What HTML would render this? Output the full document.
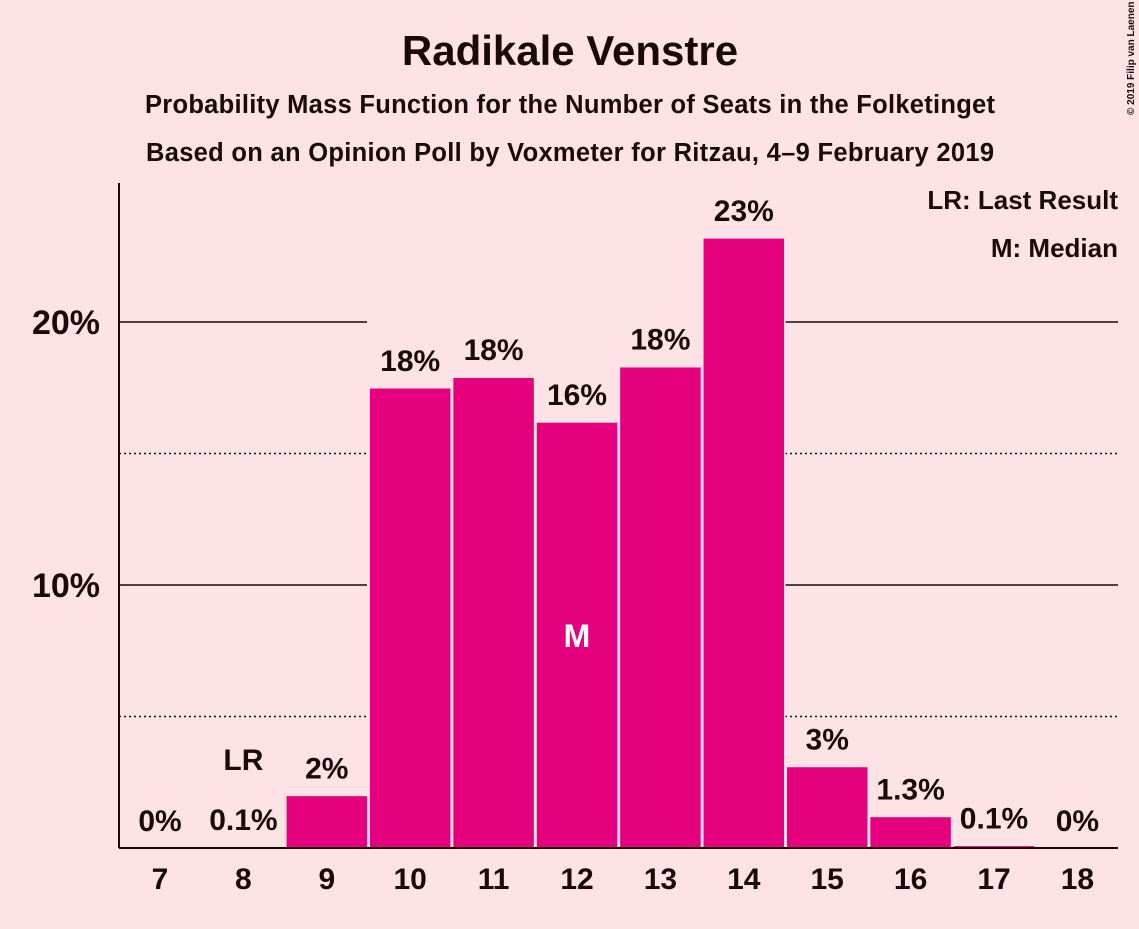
<!DOCTYPE html>
<html><head><meta charset="utf-8"><style>
body{margin:0;background:#fde2e6;}
svg text{font-family:"Liberation Sans",sans-serif;font-weight:bold;fill:#1a0a0a;}
</style></head><body>
<svg id="chart" width="1139" height="924" xmlns="http://www.w3.org/2000/svg">
<rect width="1139" height="924" fill="#fde2e6"/>
<text x="570" y="65" font-size="42" text-anchor="middle">Radikale Venstre</text>
<text x="570" y="113" font-size="25.5" text-anchor="middle" textLength="850">Probability Mass Function for the Number of Seats in the Folketinget</text>
<text x="570" y="161" font-size="25.5" text-anchor="middle" textLength="848">Based on an Opinion Poll by Voxmeter for Ritzau, 4–9 February 2019</text>
<text x="1134" y="115" font-size="10" font-weight="normal" transform="rotate(-90 1134 115)" text-anchor="start">© 2019 Filip van Laenen</text>
<text x="1118" y="209" font-size="26" font-weight="normal" text-anchor="end">LR: Last Result</text>
<text x="1118" y="257" font-size="26" font-weight="normal" text-anchor="end">M: Median</text>
<g id="grid"></g><g id="bars"></g><g id="axes"></g>
</svg>
<script>
const seats=[7,8,9,10,11,12,13,14,15,16,17,18];
const probs=[0,0.04,2.0,17.5,17.9,16.2,18.3,23.2,3.1,1.2,0.1,0];
const labels=["0%","0.1%","2%","18%","18%","16%","18%","23%","3%","1.3%","0.1%","0%"];
const yTicks=[10,20];
const yMinor=[5,15];
const lastResult=8, median=12;
const NS="http://www.w3.org/2000/svg";
const y=v=>848-v*26.3;
const x=s=>160+(s-7)*83.4;
function mk(t,a,p){const e=document.createElementNS(NS,t);for(const k in a)e.setAttribute(k,a[k]);p.appendChild(e);return e;}
const grid=document.getElementById('grid'),bars=document.getElementById('bars'),axes=document.getElementById('axes');
yMinor.forEach(v=>{[[119,367],[785,1118]].forEach(r=>{
 const l=mk('line',{x1:r[0],x2:r[1],y1:y(v),y2:y(v),stroke:'#1a0a0a','stroke-width':1.5,'stroke-dasharray':'2,3'},grid);
 
 });});
yTicks.forEach(v=>{[[119,367],[785,1118]].forEach(r=>{
 const l=mk('line',{x1:r[0],x2:r[1],y1:y(v),y2:y(v),stroke:'#1a0a0a','stroke-width':1.5},grid);
 
 });
 const t=mk('text',{x:100,y:y(v)+12,'font-size':34,'text-anchor':'end'},axes);t.textContent=v+'%';
 
 });
seats.forEach((s,i)=>{
 const p=probs[i];
 if(p>0){const r=mk('rect',{x:x(s)-41,y:y(p),width:82,height:848-y(p),fill:'#e5007d',stroke:'#fde2e6','stroke-width':1.5},bars);
 
 }
 const t=mk('text',{x:x(s),y:y(p)-17,'font-size':30,'text-anchor':'middle'},bars);t.textContent=labels[i];
 
 
 const xt=mk('text',{x:x(s),y:889,'font-size':30,'text-anchor':'middle'},axes);xt.textContent=s;
 
 
 if(s===lastResult){const lr=mk('text',{x:x(s),y:y(p)-77,'font-size':30,'text-anchor':'middle'},bars);lr.textContent='LR';
 
 }
 if(s===median){const m=mk('text',{x:x(s),y:y(p/2)+12,'font-size':32,'text-anchor':'middle',style:'fill:#fff'},bars);m.textContent='M';
 
 }
});
const ya=mk('line',{x1:119,x2:119,y1:183,y2:848,stroke:'#1a0a0a','stroke-width':2},axes);


const xa=mk('line',{x1:119,x2:1118,y1:848,y2:848,stroke:'#1a0a0a','stroke-width':2},axes);


</script>
</body></html>
